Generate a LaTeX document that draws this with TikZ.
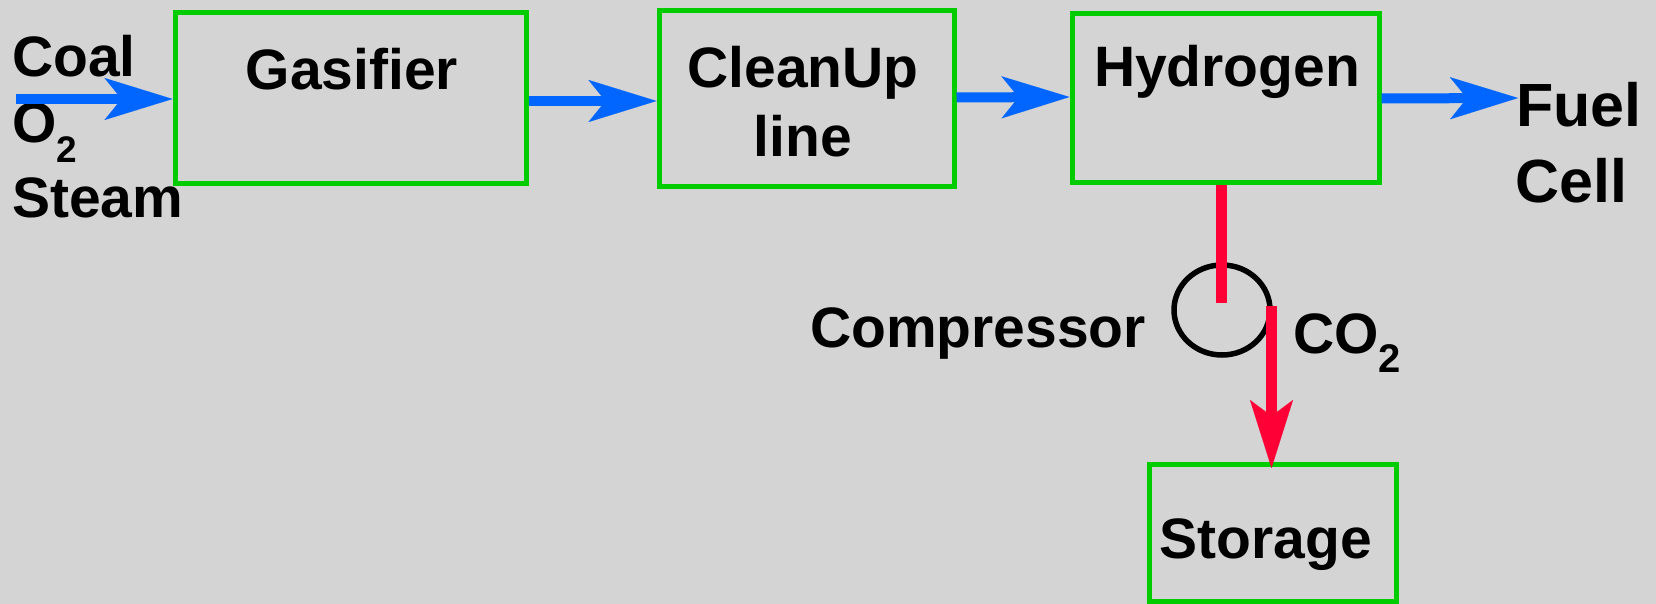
\documentclass[tikz,border=0pt]{standalone}
\usepackage{fontspec}
\setmainfont{Liberation Sans}
\usetikzlibrary{arrows.meta,shapes.geometric}
\definecolor{bgc}{HTML}{D4D4D4}
\definecolor{boxgreen}{HTML}{00CC00}
\definecolor{flowblue}{HTML}{0066FF}
\definecolor{co2red}{HTML}{FF0036}
\begin{document}
\begin{tikzpicture}[x=1pt,y=-1pt,
  stage/.style={draw=boxgreen, line width=5pt, rectangle, inner sep=0pt},
  lbl/.style={inner sep=0pt, font=\bfseries\fontsize{57}{68}\selectfont, text=black},
  biglbl/.style={lbl, font=\bfseries\fontsize{61}{73}\selectfont},
  flow/.style={draw=flowblue, line width=10pt, -{Stealth[length=68pt,width=42pt,inset=17pt,line width=0.01pt]}},
  gasline/.style={draw=co2red, line width=10.5pt},
  gasflow/.style={gasline, -{Stealth[length=68pt,width=43pt,inset=16pt,line width=0.01pt]}},
]
\fill[bgc] (0,0) rectangle (1656,604);
\useasboundingbox (0,0) rectangle (1656,604);

% boxes
\node[stage, minimum width=351pt, minimum height=171pt] (gas) at (350.5,98.5) {};
\node[stage, minimum width=295pt, minimum height=176pt] (clean) at (806.5,99) {};
\node[stage, minimum width=307pt, minimum height=169pt] (hyd) at (1225.5,98.5) {};
\node[stage, minimum width=247pt, minimum height=137pt] (sto) at (1272.5,532.5) {};

% compressor
\node[draw=black, line width=5.5pt, ellipse, inner sep=0pt,
      minimum width=96pt, minimum height=90pt] (comp) at (1222,310) {};

% texts
\node[lbl, anchor=base] (gastxt) at (352,90) {Gasifier};
\node[lbl, anchor=base] (cleantxt) at (803,88) {CleanUp};
\node[lbl, anchor=base] (linetxt) at (803,157) {line};
\node[lbl, anchor=base] (hydtxt) at (1227,87) {Hydrogen};
\node[lbl, anchor=base] (stotxt) at (1266,558) {Storage};
\node[lbl, anchor=base west] (comptxt) at (810,347) {Compressor};
\node[lbl, anchor=base west] (co2txt) at (1293,353) {CO\raisebox{-19pt}{\fontsize{40}{44}\selectfont 2}};
\node[lbl, anchor=base west] (coaltxt) at (12,77) {Coal};
\node[lbl, anchor=base west] (o2txt) at (12,143) {O\raisebox{-20pt}{\fontsize{37}{40}\selectfont 2}};
\node[lbl, anchor=base west] (steamtxt) at (12,217) {Steam};
\node[biglbl, anchor=base west] (fueltxt) at (1516,127) {Fuel};
\node[biglbl, anchor=base west] (celltxt) at (1515,203) {Cell};

% flows
\coordinate (coalin) at (16,99);
\coordinate (fuelin) at (1518,98);
\draw[flow] (coalin) -- (coalin -| gas.west);
\draw[flow] ([yshift=-2.5pt]gas.east) -- ([yshift=-2pt]clean.west);
\draw[flow] ([yshift=1.5pt]clean.east) -- ([yshift=1.5pt]hyd.west);
\draw[flow] (hyd.east) -- (fuelin);

% CO2 line
\draw[gasline] ([xshift=-4pt]hyd.south) -- ([xshift=-4pt,yshift=7pt]hyd.south |- comp.center);
\draw[gasflow] ([xshift=-1pt,yshift=4pt]sto.north |- comp.center) -- ([xshift=-1pt,yshift=-6.5pt]sto.north);
\end{tikzpicture}
\end{document}
